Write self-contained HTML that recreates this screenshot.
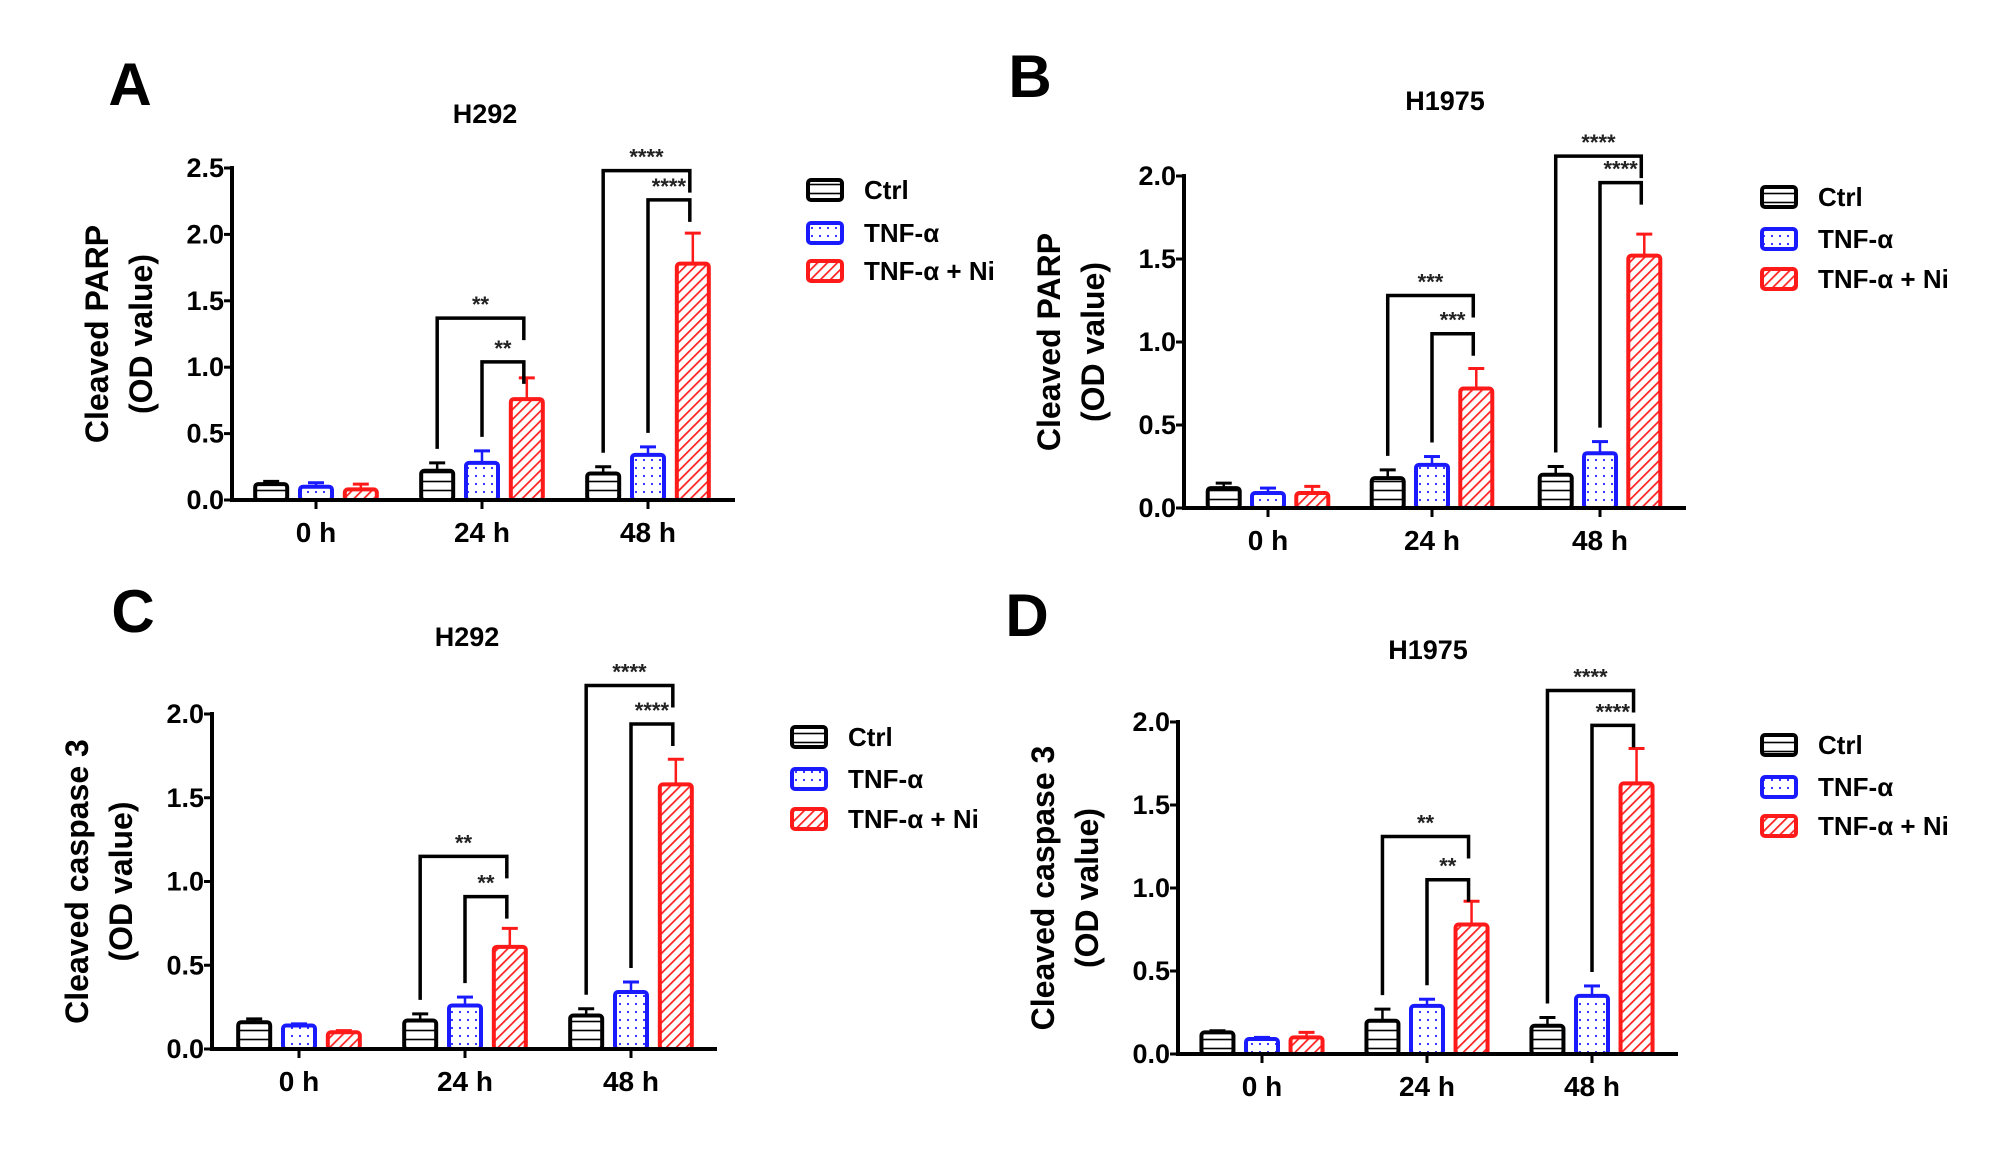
<!DOCTYPE html>
<html><head><meta charset="utf-8"><style>
body{margin:0;background:#fff}
svg{display:block;font-family:"Liberation Sans",Arial,sans-serif;font-weight:bold}
</style></head><body>
<svg id="fig" width="2008" height="1168" viewBox="0 0 2008 1168">
<defs>
<pattern id="pCtrl" width="10" height="9" patternUnits="userSpaceOnUse"><rect width="10" height="9" fill="#fff"/><line x1="0" y1="4.5" x2="10" y2="4.5" stroke="#000" stroke-width="1.6"/></pattern>
<pattern id="pTnf" width="8" height="8" patternUnits="userSpaceOnUse"><rect width="8" height="8" fill="#fff"/><circle cx="4" cy="4" r="1.1" fill="#22f"/></pattern>
<pattern id="pNi" width="7" height="7" patternUnits="userSpaceOnUse" patternTransform="rotate(45)"><rect width="7" height="7" fill="#fff"/><line x1="0" y1="0" x2="0" y2="7" stroke="#f22" stroke-width="3.5"/></pattern>
</defs>
</svg>
<script>
// Data
const groups = ["0 h","24 h","48 h"];
const seriesNames = ["Ctrl","TNF-α","TNF-α + Ni"];
const aCtrl=[0.12,0.22,0.20], aCtrlErr=[0.02,0.06,0.05];
const aTnf=[0.10,0.28,0.34], aTnfErr=[0.03,0.09,0.06];
const aNi=[0.08,0.76,1.78], aNiErr=[0.04,0.16,0.23];
const bCtrl=[0.12,0.18,0.20], bCtrlErr=[0.03,0.05,0.05];
const bTnf=[0.09,0.26,0.33], bTnfErr=[0.03,0.05,0.07];
const bNi=[0.09,0.72,1.52], bNiErr=[0.04,0.12,0.13];
const cCtrl=[0.16,0.17,0.20], cCtrlErr=[0.02,0.04,0.04];
const cTnf=[0.14,0.26,0.34], cTnfErr=[0.01,0.05,0.06];
const cNi=[0.10,0.61,1.58], cNiErr=[0.01,0.11,0.15];
const dCtrl=[0.13,0.20,0.17], dCtrlErr=[0.01,0.07,0.05];
const dTnf=[0.09,0.29,0.35], dTnfErr=[0.01,0.04,0.06];
const dNi=[0.10,0.78,1.63], dNiErr=[0.03,0.14,0.21];
const ticksA=[0,0.5,1.0,1.5,2.0,2.5];
const ticksB=[0,0.5,1.0,1.5,2.0];
// brackets: [groupIndex, leftSeries, level, label]
const brA=[[1,0,1.37,"**"],[1,1,1.04,"**"],[2,0,2.48,"****"],[2,1,2.26,"****"]];
const brB=[[1,0,1.28,"***"],[1,1,1.05,"***"],[2,0,2.12,"****"],[2,1,1.96,"****"]];
const brC=[[1,0,1.15,"**"],[1,1,0.91,"**"],[2,0,2.17,"****"],[2,1,1.94,"****"]];
const brD=[[1,0,1.31,"**"],[1,1,1.05,"**"],[2,0,2.19,"****"],[2,1,1.98,"****"]];

const NS="http://www.w3.org/2000/svg";
const svg=document.getElementById("fig");
function mk(tag,attrs,parent,text){const e=document.createElementNS(NS,tag);for(const k in attrs)e.setAttribute(k,attrs[k]);if(text!==undefined)e.textContent=text;(parent||svg).appendChild(e);return e;}

const fills=["url(#pCtrl)","url(#pTnf)","url(#pNi)"];
const strokes=["#000","#1a1aff","#ff1a1a"];

function panel(P){
  const g=mk("g",{});
  
  
  const ymax=P.ticks[P.ticks.length-1];
  const y=v=>P.y0-(v/ymax)*(P.y0-P.yTop);
  const step=(P.gx[1]-P.gx[0])*0.27, bw=32;
  const bx=(gi,si)=>P.gx[gi]+(si-1)*step;
  const L=mk("text",{x:P.lx,y:P.ly,"font-size":60,"text-anchor":"middle"},g,P.id);
  
  const T=mk("text",{x:P.tx,y:P.ty,"font-size":27,"text-anchor":"middle"},g,P.title);
  
  const yt=mk("text",{transform:`translate(${P.ax-124},${(P.y0+P.yTop)/2}) rotate(-90)`,"font-size":32,"text-anchor":"middle"},g);
  
  mk("tspan",{x:0,dy:0},yt,P.ylabel);
  mk("tspan",{x:0,dy:44},yt,"(OD value)");
  const ya=mk("line",{x1:P.ax,y1:P.yTop-2,x2:P.ax,y2:P.y0+2,stroke:"#000","stroke-width":4},g);
  
  P.ticks.forEach(t=>{
    const tk=mk("line",{x1:P.ax-8,y1:y(t),x2:P.ax,y2:y(t),stroke:"#000","stroke-width":3},g);
    
    const tl=mk("text",{x:P.ax-8,y:y(t)+9,"font-size":27,"text-anchor":"end"},g,t.toFixed(1));
    
  });
  P.vals.forEach((arr,si)=>{
    arr.forEach((v,gi)=>{
      const cx=bx(gi,si), e=P.errs[si][gi];
      const er=mk("line",{x1:cx,y1:y(v),x2:cx,y2:y(v+e),stroke:strokes[si],"stroke-width":2.5},g);
      
      const ec=mk("line",{x1:cx-8,y1:y(v+e),x2:cx+8,y2:y(v+e),stroke:strokes[si],"stroke-width":3},g);
      
      const r=mk("rect",{x:cx-bw/2,y:y(v),width:bw,height:P.y0-y(v),fill:fills[si],stroke:strokes[si],"stroke-width":4,rx:3},g);
      
    });
  });
  const xa=mk("line",{x1:P.ax,y1:P.y0,x2:P.axEnd,y2:P.y0,stroke:"#000","stroke-width":4},g);
  
  groups.forEach((lab,gi)=>{
    const tk=mk("line",{x1:P.gx[gi],y1:P.y0,x2:P.gx[gi],y2:P.y0+9,stroke:"#000","stroke-width":3},g);
    
    const tl=mk("text",{x:P.gx[gi],y:P.y0+42,"font-size":28,"text-anchor":"middle"},g,lab);
    
  });
  P.br.forEach(b=>{
    const [gi,si,lv,lab]=b;
    const x1=bx(gi,si), x2=bx(gi,2)-3, yy=y(lv);
    const yl=y(P.vals[si][gi]+P.errs[si][gi])-14;
    const yr=yy+22;
    const p=mk("path",{d:`M${x1},${yl} L${x1},${yy} L${x2},${yy} L${x2},${yr}`,fill:"none",stroke:"#000","stroke-width":3.5},g);
    
    const st=mk("text",{x:(x1+x2)/2,y:yy-6,"font-size":22,"text-anchor":"middle",fill:"#222"},g,lab);
    
  });
  seriesNames.forEach((n,si)=>{
    const yy=P.legY[si];
    const lr=mk("rect",{x:P.legX,y:yy-10,width:34,height:20,fill:fills[si],stroke:strokes[si],"stroke-width":4,rx:3},g);
    
    const lt=mk("text",{x:P.legX+56,y:yy+9,"font-size":26},g,n);
    
  });
}

panel({id:"A",title:"H292",ylabel:"Cleaved PARP",lx:130,ly:105,tx:485,ty:123,ax:232,axEnd:735,y0:500,yTop:168,ticks:ticksA,gx:[316,482,648],
  vals:[aCtrl,aTnf,aNi],errs:[aCtrlErr,aTnfErr,aNiErr],br:brA,legX:808,legY:[190,233,271]});
panel({id:"B",title:"H1975",ylabel:"Cleaved PARP",lx:1030,ly:97,tx:1445,ty:110,ax:1184,axEnd:1686,y0:508,yTop:176,ticks:ticksB,gx:[1268,1432,1600],
  vals:[bCtrl,bTnf,bNi],errs:[bCtrlErr,bTnfErr,bNiErr],br:brB,legX:1762,legY:[197,239,279]});
panel({id:"C",title:"H292",ylabel:"Cleaved caspase 3",lx:133,ly:632,tx:467,ty:646,ax:212,axEnd:717,y0:1049,yTop:714,ticks:ticksB,gx:[299,465,631],
  vals:[cCtrl,cTnf,cNi],errs:[cCtrlErr,cTnfErr,cNiErr],br:brC,legX:792,legY:[737,779,819]});
panel({id:"D",title:"H1975",ylabel:"Cleaved caspase 3",lx:1027,ly:636,tx:1428,ty:659,ax:1178,axEnd:1678,y0:1054,yTop:722,ticks:ticksB,gx:[1262,1427,1592],
  vals:[dCtrl,dTnf,dNi],errs:[dCtrlErr,dTnfErr,dNiErr],br:brD,legX:1762,legY:[745,787,826]});
</script>
</body></html>
